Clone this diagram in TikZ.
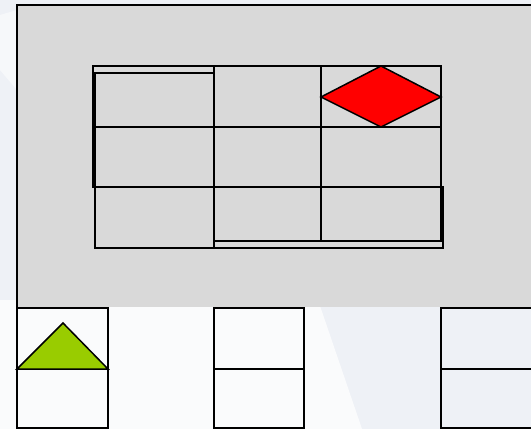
\documentclass[tikz,border=0pt]{standalone}
\definecolor{slidebg}{RGB}{238,241,246}
\definecolor{panelgray}{RGB}{217,217,217}
\definecolor{leafgreen}{RGB}{153,204,0}

\begin{document}
\begin{tikzpicture}[
  x=1pt, y=-1pt,
  panel/.style={fill=panelgray},
  rim/.style={draw, line width=1.9pt},
  cell/.style={draw, line width=1.8pt},
  slot/.style={draw, line width=1.8pt},
  gem/.style={draw, line width=1.5pt, fill=red, line join=miter},
  leaf/.style={draw, line width=1.5pt, fill=leafgreen, line join=miter},
]
  \useasboundingbox (0,0) rectangle (531,429);
  \clip (0,0) rectangle (531,429);
  \newcommand{\cellbox}[4]{% #1 x0, #2 y0, #3 x1, #4 y1
    \path[cell] (#1,#2) rectangle (#3,#4);}
  \newcommand{\slotbox}[2]{% #1 left, #2 right
    \path[slot] (#1,308) rectangle (#2,428);
    \draw[slot] (#1,369) -- (#2,369);}

  % slide background with a pale sweep
  \fill[slidebg] (0,0) rectangle (531,429);
  \fill[white, opacity=0.75] (0,300) -- (318,300) -- (362,429) -- (0,429) -- cycle;
  \fill[white, opacity=0.5] (0,15) -- (17,10) -- (17,90) -- (0,70) -- cycle;

  % grey panel, open at the bottom
  \path[panel] (17,5) rectangle (540,307);
  \draw[rim] (540,5) -- (17,5) -- (17,307);

  % grid of cells, drawn as overlapping frames
  \cellbox{93}{66}{441}{187}
  \cellbox{214}{187}{443}{248}
  \cellbox{95}{73}{214}{127}
  \cellbox{214}{66}{321}{127}
  \cellbox{321}{66}{441}{127}
  \cellbox{95}{127}{214}{187}
  \cellbox{214}{127}{321}{187}
  \cellbox{321}{127}{441}{187}
  \cellbox{95}{187}{214}{248}
  \cellbox{214}{187}{321}{241}
  \cellbox{321}{187}{441}{241}

  % red diamond in the top right cell
  \path[gem] (321,97) -- (381,66) -- (441,97) -- (381,127) -- cycle;

  % slots along the bottom edge
  \slotbox{17}{108}
  \slotbox{214}{304}
  \slotbox{441}{545}

  % green triangle in the first slot
  \path[leaf] (17,369) -- (63,323) -- (108,369) -- cycle;
\end{tikzpicture}
\end{document}
